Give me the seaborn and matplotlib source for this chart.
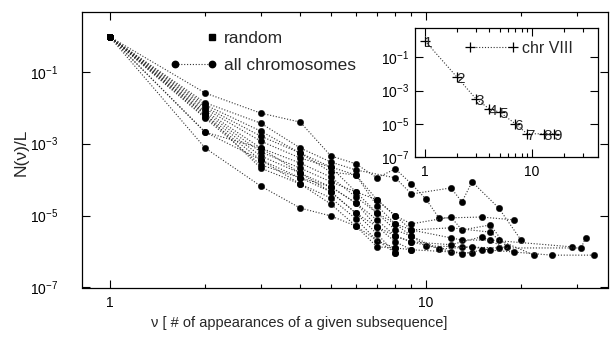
import numpy as np
import pandas as pd
import matplotlib
matplotlib.use("Agg")
import matplotlib.pyplot as plt
import seaborn as sns
from matplotlib.lines import Line2D
from matplotlib.legend_handler import HandlerLine2D
from matplotlib.ticker import FixedLocator, NullFormatter, NullLocator, LogFormatterSciNotation

# ---- data: nu (number of appearances) and log10 N(nu)/L for each chromosome ----
nu_a = [1, 2, 3, 4, 5, 6, 7, 8, 9, 10, 11, 15, 19]
lg_a = [-0.03, -1.59, -2.15, -2.40, -3.34, -3.56, -3.95, -3.70, -4.12, -4.54, -5.07, -5.04, -5.12]
nu_b = [1, 2, 3, 4, 5, 6, 8, 9, 12, 13, 14, 17, 20]
lg_b = [-0.04, -1.86, -2.43, -3.12, -3.51, -3.73, -3.95, -4.40, -4.23, -4.62, -4.06, -4.79, -5.68]
nu_c = [1, 2, 3, 4, 5, 6, 7, 8, 9, 12, 13, 16, 18]
lg_c = [-0.03, -1.92, -2.65, -3.26, -3.65, -3.87, -4.56, -5.01, -5.23, -5.04, -5.40, -5.26, -5.87]
nu_d = [1, 2, 3, 4, 5, 6, 7, 8, 9, 12, 16, 17, 22]
lg_d = [-0.04, -1.98, -2.79, -3.26, -3.79, -3.87, -4.73, -5.23, -5.40, -5.34, -5.46, -5.68, -6.10]
nu_e = [1, 2, 3, 4, 5, 6, 7, 8, 9, 12, 13, 16, 29]
lg_e = [-0.03, -2.03, -2.93, -3.40, -3.65, -4.34, -4.56, -5.01, -5.40, -5.62, -5.68, -5.68, -5.87]
nu_f = [1, 2, 3, 4, 5, 6, 7, 8, 9, 10, 13, 17, 31, 32]
lg_f = [-0.04, -2.09, -3.12, -3.54, -3.93, -4.48, -4.93, -5.40, -5.57, -5.84, -5.87, -5.90, -5.90, -5.62]
nu_g = [1, 2, 3, 4, 5, 6, 7, 8, 9, 11, 14, 16, 25, 34]
lg_g = [-0.03, -2.14, -3.23, -3.68, -4.06, -4.34, -4.93, -5.23, -5.57, -5.93, -5.87, -5.96, -6.10, -6.10]
nu_h = [1, 2, 3, 4, 5, 6, 7, 8, 9, 12, 15, 19]
lg_h = [-0.04, -2.20, -3.34, -3.82, -4.20, -4.65, -5.12, -5.57, -5.73, -5.81, -5.59, -6.01]
nu_i = [1, 2, 3, 4, 5, 6, 7, 8, 9, 12, 14]
lg_i = [-0.03, -2.26, -3.45, -3.95, -4.34, -4.93, -5.31, -5.73, -5.95, -6.01, -6.04]
nu_j = [1, 2, 3, 4, 5, 6, 7, 8, 9, 13, 15]
lg_j = [-0.04, -2.29, -3.59, -3.95, -4.20, -4.65, -5.31, -5.57, -5.73, -6.07, -5.96]
nu_k = [1, 2, 3, 4, 5, 6, 7, 8, 9]
lg_k = [-0.03, -2.68, -3.45, -4.12, -4.51, -5.09, -5.70, -5.90, -5.95]
nu_l = [1, 2, 3, 4, 5, 6, 7, 8]
lg_l = [-0.04, -2.68, -3.12, -3.82, -4.34, -4.93, -5.51, -6.04]
nu_m = [1, 2, 3, 4, 5, 6, 7, 8]
lg_m = [-0.03, -2.18, -3.68, -4.12, -4.68, -5.29, -5.87, -5.90]
nu_n = [1, 2, 3, 4, 5, 6, 8]
lg_n = [-0.04, -3.12, -4.18, -4.79, -5.01, -5.29, -6.04]

# random sequence reference
nu_random = [1]
frac_random = [0.95]

# chromosome VIII (inset) with point labels
nu_viii = [1, 2, 3, 4, 5, 7, 9, 13, 16]
lg_viii = [0.0, -2.2, -3.5, -4.1, -4.3, -5.0, -5.6, -5.6, -5.6]
labels_viii = ["1", "2", "3", "4", "5", "6", "7", "8", "9"]

series = {
    "a": (nu_a, lg_a), "b": (nu_b, lg_b), "c": (nu_c, lg_c), "d": (nu_d, lg_d),
    "e": (nu_e, lg_e), "f": (nu_f, lg_f), "g": (nu_g, lg_g), "h": (nu_h, lg_h),
    "i": (nu_i, lg_i), "j": (nu_j, lg_j), "k": (nu_k, lg_k), "l": (nu_l, lg_l),
    "m": (nu_m, lg_m), "n": (nu_n, lg_n),
}
df = pd.concat(
    [pd.DataFrame({"nu": nu, "frac": 10.0 ** np.array(lg), "chrom": name})
     for name, (nu, lg) in series.items()],
    ignore_index=True,
)
df_viii = pd.DataFrame({"nu": nu_viii, "frac": 10.0 ** np.array(lg_viii)})
df_rand = pd.DataFrame({"nu": nu_random, "frac": frac_random})

# ---- style ----
sns.set_style("ticks")
plt.rcParams["font.family"] = ["Liberation Sans", "DejaVu Sans"]
plt.rcParams["mathtext.fontset"] = "custom"
plt.rcParams["mathtext.rm"] = "Liberation Sans"
plt.rcParams["mathtext.it"] = "Liberation Sans:italic"
plt.rcParams["axes.linewidth"] = 0.9
plt.rcParams["axes.edgecolor"] = "black"

DOT = (0, (1, 1.6))
LINE_COLOR = "0.2"

fig = plt.figure(figsize=(6.10, 3.46), dpi=100)
ax = fig.add_axes([82 / 610, (346 - 287.5) / 346, (608 - 82) / 610, (287.5 - 12) / 346])
ax.set_xscale("log")
ax.set_yscale("log")
ax.set_xlim(0.815, 37.7)
ax.set_ylim(1e-7, 4.6)

sns.lineplot(data=df, x="nu", y="frac", units="chrom", estimator=None, sort=True,
             color=LINE_COLOR, linestyle=DOT, linewidth=0.8,
             marker="o", markersize=4.6, markerfacecolor="black",
             markeredgecolor="black", markeredgewidth=0.3, legend=False, ax=ax)
sns.scatterplot(data=df_rand, x="nu", y="frac", marker="s", color="black",
                s=22, linewidth=0, zorder=4, legend=False, ax=ax)


def style_axes(a, fs, ypad):
    a.xaxis.set_major_locator(FixedLocator([1, 10]))
    a.xaxis.set_minor_locator(FixedLocator([2, 3, 4, 5, 6, 7, 8, 9, 20, 30]))
    a.xaxis.set_minor_formatter(NullFormatter())
    a.xaxis.set_major_formatter(plt.FuncFormatter(lambda v, p: f"{v:g}"))
    a.yaxis.set_major_locator(FixedLocator([1e-1, 1e-3, 1e-5, 1e-7]))
    a.yaxis.set_major_formatter(LogFormatterSciNotation())
    a.yaxis.set_minor_locator(NullLocator())
    a.tick_params(which="both", direction="in", top=True, right=True,
                  colors="black", labelsize=fs, width=0.8)
    a.tick_params(which="major", length=6)
    a.tick_params(which="minor", length=3)
    a.tick_params(axis="x", which="major", pad=6)
    a.tick_params(axis="y", which="major", pad=ypad)
    for s in a.spines.values():
        s.set_visible(True)
        s.set_color("black")
        s.set_linewidth(0.9)


style_axes(ax, 10, 17)
ax.set_xlabel("ν [ # of appearances of a given subsequence]", fontsize=10.5)
ax.set_ylabel("N(ν)/L", fontsize=12.5)
ax.xaxis.set_label_coords(0.413, -0.105)
ax.yaxis.set_label_coords(-0.102, 0.49)


class RightMarkerHandler(HandlerLine2D):
    """Line handler that shows only the right-hand marker."""

    def create_artists(self, *args, **kwargs):
        artists = super().create_artists(*args, **kwargs)
        for art in artists:
            art.set_markevery([len(art.get_xdata()) - 1])
        return artists


h_rand = Line2D([], [], linestyle="none", marker="s", color="black", markersize=4.2)
h_all = Line2D([], [], linestyle=DOT, color=LINE_COLOR, linewidth=0.8, marker="o",
               markersize=4.6, markerfacecolor="black", markeredgecolor="black")
ax.legend([h_rand, h_all], ["random", "all chromosomes"], loc="upper left",
          bbox_to_anchor=(0.167, 0.932), frameon=False, fontsize=12.5, numpoints=2,
          handlelength=2.75, handletextpad=0.35, labelspacing=0.7, borderpad=0,
          borderaxespad=0, handler_map={h_rand: RightMarkerHandler(numpoints=2)})

# ---- inset: chromosome VIII ----
axin = fig.add_axes([415 / 610, (346 - 157) / 346, (598 - 415) / 610, (157 - 28) / 346])
axin.set_xscale("log")
axin.set_yscale("log")
axin.set_xlim(0.806, 41.4)
axin.set_ylim(1e-7, 6.0)
sns.lineplot(data=df_viii, x="nu", y="frac", estimator=None, color=LINE_COLOR,
             linestyle=DOT, linewidth=0.8, marker="+", markersize=7,
             markeredgecolor="black", markeredgewidth=0.9, legend=False, ax=axin)
for nu, lg, lab in zip(nu_viii, lg_viii, labels_viii):
    axin.annotate(lab, (nu, 10.0 ** lg), xytext=(2.5, -1.5), textcoords="offset points",
                  ha="center", va="center", fontsize=11)
style_axes(axin, 10, 4)
axin.set_xlabel("")
axin.set_ylabel("")
axin.patch.set_alpha(0.0)
h_viii = Line2D([], [], linestyle=DOT, color=LINE_COLOR, linewidth=0.8, marker="+",
                markersize=7, markeredgecolor="black", markeredgewidth=0.9)
axin.legend([h_viii], ["chr VIII"], loc="upper left", bbox_to_anchor=(0.275, 0.90),
            frameon=False, fontsize=11.5, numpoints=2, handlelength=3.3,
            handletextpad=0.25, borderpad=0, borderaxespad=0)

fig.savefig("out.png", dpi=100)
